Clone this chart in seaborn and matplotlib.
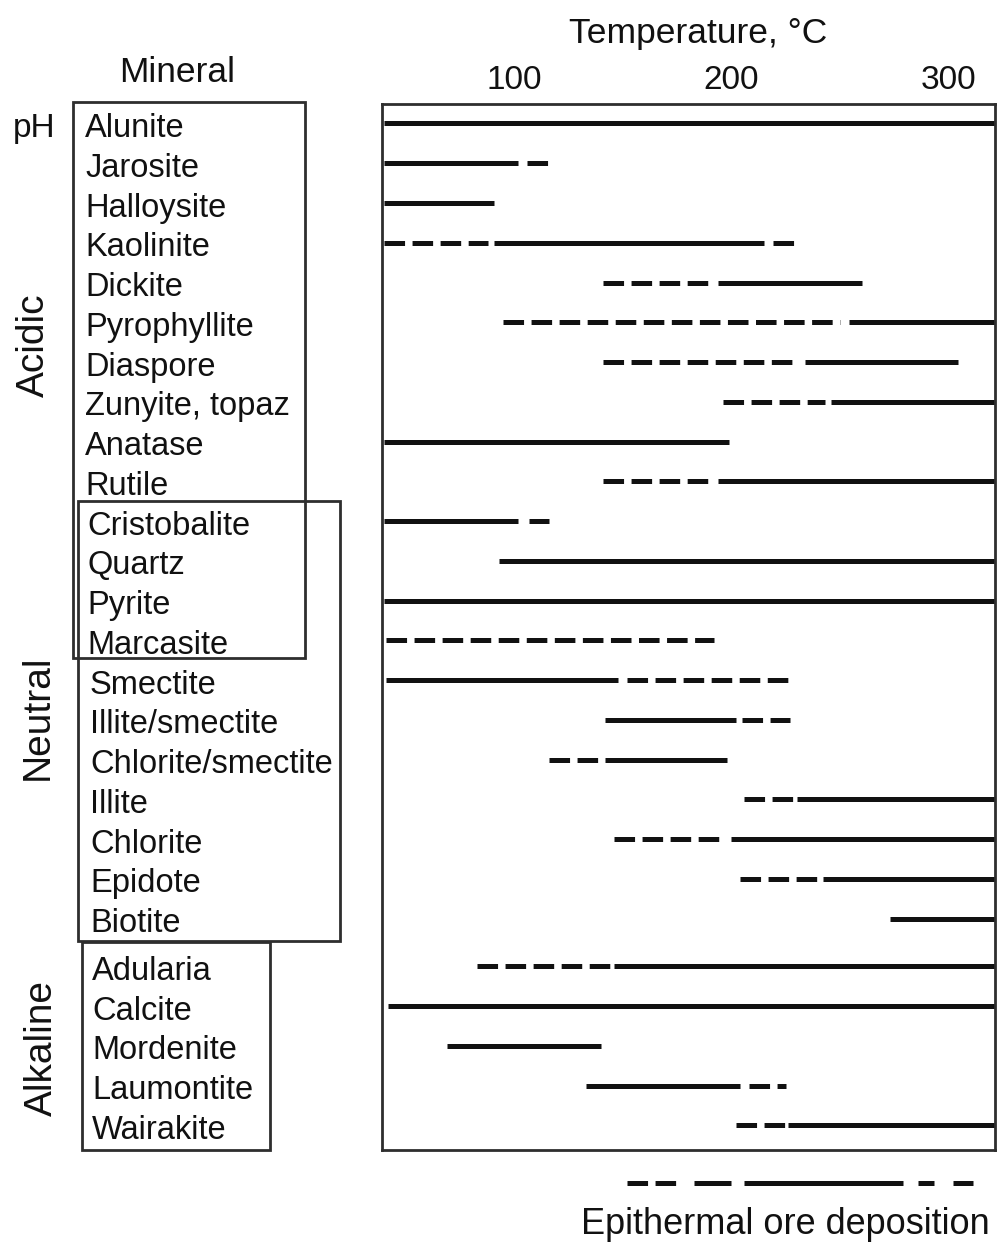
import matplotlib
matplotlib.use("Agg")
import matplotlib.pyplot as plt
import matplotlib.transforms as mtransforms
from matplotlib.patches import Rectangle
import pandas as pd
import seaborn as sns

# ---- data -----------------------------------------------------------------
minerals = [
    "Alunite", "Jarosite", "Halloysite", "Kaolinite", "Dickite",
    "Pyrophyllite", "Diaspore", "Zunyite, topaz", "Anatase", "Rutile",
    "Cristobalite", "Quartz", "Pyrite", "Marcasite",
    "Smectite", "Illite/smectite", "Chlorite/smectite", "Illite",
    "Chlorite", "Epidote", "Biotite",
    "Adularia", "Calcite", "Mordenite", "Laumontite", "Wairakite",
]
ph_class = (["acidic"] * 10 + ["both"] * 4 + ["neutral"] * 7
            + ["alkaline"] * 5)

# stability ranges, degrees C (solid = common, dashed = less common)
solid_ranges = [
    [(40, 322)], [(40, 102)], [(40, 91)], [(91, 215)], [(194, 260)],
    [(254, 322)], [(234, 304)], [(246, 322)], [(40, 199)], [(194, 322)],
    [(40, 102)], [(93, 322)], [(40, 322)], [],
    [(41, 148)], [(142, 202)], [(142, 198)], [(230, 322)],
    [(200, 322)], [(242, 322)], [(273, 322)],
    [(146, 322)], [(42, 322)], [(69, 140)], [(133, 204)], [(226, 322)],
]
dashed_ranges = [
    [], [(106, 116)], [], [(40, 88), (219, 229)], [(141, 191)],
    [(95, 250)], [(141, 231)], [(196, 243)], [], [(141, 191)],
    [(107, 116)], [], [], [(41, 192)],
    [(152, 228)], [(205, 227)], [(116, 140)], [(206, 229)],
    [(146, 196)], [(204, 241)], [],
    [(83, 146)], [], [], [(208, 225)], [(202, 225)],
]

ore_solid = [(183, 200), (206, 279)]
ore_dashed = [(152, 175), (286, 293), (302, 311)]

temp_ticks = [100, 200, 300]
temp_limits = (39.3, 321.2)
group_labels = ["Acidic", "Neutral", "Alkaline"]

# ---- figure / style ------------------------------------------------------
W, H = 997, 1242
sns.set_theme(style="white")
plt.rcParams["font.family"] = ["Liberation Sans", "DejaVu Sans"]
plt.rcParams["lines.scale_dashes"] = False
plt.rcParams["lines.solid_capstyle"] = "butt"
plt.rcParams["lines.dash_capstyle"] = "butt"

INK = "#111111"
FRAME = "#2e2e2e"
DASH = (14.8, 5.4)
LW = 3.6


def fx(px):
    return px / W


def fy(py):
    return 1 - py / H


fig = plt.figure(figsize=(W / 100, H / 100), dpi=100)
fig.patch.set_facecolor("white")

ax_left, ax_right, ax_top, ax_bottom = 382, 995, 104, 1150
ax = fig.add_axes([fx(ax_left), fy(ax_bottom),
                   (ax_right - ax_left) / W, (ax_bottom - ax_top) / H])

# row position of every mineral (small extra gap before the alkaline group)
row_pos = [i + (0.2 if c == "alkaline" else 0.0)
           for i, c in enumerate(ph_class)]

records = []
seg = 0
for i, name in enumerate(minerals):
    for kind, ranges in (("solid", solid_ranges[i]), ("dashed", dashed_ranges[i])):
        for a, b in ranges:
            for t in (a, b):
                records.append({"mineral": name, "row": row_pos[i], "temp": t,
                                "kind": kind, "seg": seg})
            seg += 1
df = pd.DataFrame(records)

sns.lineplot(data=df, x="temp", y="row", units="seg", estimator=None,
             style="kind", style_order=["solid", "dashed"],
             dashes={"solid": "", "dashed": DASH},
             color=INK, linewidth=LW, sort=False, legend=False, ax=ax)

ax.set_xlim(*temp_limits)
ax.set_ylim(25.82, -0.49)
ax.set_yticks([])
ax.set_xlabel("")
ax.set_ylabel("")
ax.xaxis.tick_top()
ax.set_xticks(temp_ticks)
ax.set_xticklabels([str(t) for t in temp_ticks])
ax.tick_params(axis="x", length=0, pad=6, labelsize=24, labelcolor=INK)
for sp in ax.spines.values():
    sp.set_visible(True)
    sp.set_color(FRAME)
    sp.set_linewidth(2.0)

# ---- ore deposition bar below the chart ----------------------------------
ore_ax = fig.add_axes([fx(ax_left), fy(1193), (ax_right - ax_left) / W, 20 / H])
ore_records = []
seg = 0
for kind, ranges in (("solid", ore_solid), ("dashed", ore_dashed)):
    for a, b in ranges:
        for t in (a, b):
            ore_records.append({"temp": t, "y": 0, "kind": kind, "seg": seg})
        seg += 1
ore_df = pd.DataFrame(ore_records)
sns.lineplot(data=ore_df, x="temp", y="y", units="seg", estimator=None,
             style="kind", style_order=["solid", "dashed"],
             dashes={"solid": "", "dashed": DASH},
             color=INK, linewidth=LW, sort=False, legend=False, ax=ore_ax)
ore_ax.set_xlim(*temp_limits)
ore_ax.set_ylim(-1, 1)
ore_ax.axis("off")

fig.text(fx(785), fy(1234), "Epithermal ore deposition", ha="center",
         va="baseline", fontsize=26, color=INK)

# ---- headers -------------------------------------------------------------
fig.text(fx(698), fy(43), "Temperature, \u00b0C", ha="center",
         va="baseline", fontsize=25.5, color=INK)
fig.text(fx(177), fy(82), "Mineral", ha="center", va="baseline",
         fontsize=25.5, color=INK)

# ---- mineral names and pH boxes ------------------------------------------
blend = mtransforms.blended_transform_factory(fig.transFigure, ax.transData)
indent = {"acidic": 85, "both": 87, "neutral": 90, "alkaline": 92}
for name, cls, r in zip(minerals, ph_class, row_pos):
    ax.text(fx(indent[cls]), r + 0.34, name, transform=blend,
            ha="left", va="baseline", fontsize=23.5, color=INK, clip_on=False)

boxes = [  # (left px, right px, top row, bottom row)
    (73, 305, -0.54, 13.45),
    (78, 340, 9.49, 20.57),
    (82, 270, 20.59, 25.82),
]
for x0, x1, r0, r1 in boxes:
    fig.add_artist(Rectangle((fx(x0), r0), fx(x1) - fx(x0), r1 - r0,
                             transform=blend, fill=False, edgecolor=FRAME,
                             linewidth=2.0, clip_on=False))

fig.text(fx(34), fy(137), "pH", ha="center", va="baseline", fontsize=24,
         color=INK)
group_anchor = {"Acidic": (34, 5.57), "Neutral": (38, 14.93),
                "Alkaline": (42, 23.26)}
for lab in group_labels:
    x, r = group_anchor[lab]
    ax.text(fx(x), r, lab, transform=blend, rotation=90, ha="center",
            va="center", fontsize=28, color=INK, clip_on=False)

fig.savefig("out.png", dpi=100, facecolor="white")
